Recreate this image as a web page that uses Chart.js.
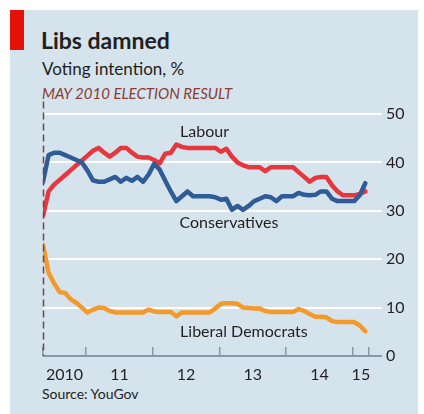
<!DOCTYPE html>
<html>
<head>
<meta charset="utf-8">
<script src="https://cdn.jsdelivr.net/npm/chart.js@4"></script>
<style>
  html, body { margin: 0; padding: 0; background: #fff; }
  body { width: 424px; height: 414px; position: relative; overflow: hidden; font-family: Lato, "Noto Sans", sans-serif; color: #231f20; }
  #panel { position: absolute; left: 10px; top: 10px; width: 408px; height: 404px; background: #d5e3ec; }
  #bar { position: absolute; left: 10px; top: 10px; width: 14px; height: 40px; background: #e3120b; }
  .txt { position: absolute; white-space: nowrap; line-height: 1; }
  #title { left: 41px; top: 29px; font-size: 23px; font-weight: bold; }
  #subtitle { left: 42px; top: 60px; font-size: 17px; }
  #election { left: 42px; top: 86px; font-size: 15px; font-style: italic; color: #8c3b32; }
  #source { left: 42px; top: 387px; font-size: 14px; }
  #chart { position: absolute; left: 0; top: 0; }
</style>
</head>
<body>
<div id="panel"></div>
<div id="bar"></div>
<div class="txt" id="title">Libs damned</div>
<div class="txt" id="subtitle">Voting intention, %</div>
<div class="txt" id="election">MAY 2010 ELECTION RESULT</div>
<div class="txt" id="source">Source: YouGov</div>
<canvas id="chart" width="424" height="414"></canvas>
<script>
// 월별 데이터 (2010년 5월 ~ 2015년 3월)
const months = [
  "2010-05", "2010-06", "2010-07", "2010-08", "2010-09", "2010-10", "2010-11", "2010-12",
  "2011-01", "2011-02", "2011-03", "2011-04", "2011-05", "2011-06", "2011-07", "2011-08", "2011-09", "2011-10", "2011-11", "2011-12",
  "2012-01", "2012-02", "2012-03", "2012-04", "2012-05", "2012-06", "2012-07", "2012-08", "2012-09", "2012-10", "2012-11", "2012-12",
  "2013-01", "2013-02", "2013-03", "2013-04", "2013-05", "2013-06", "2013-07", "2013-08", "2013-09", "2013-10", "2013-11", "2013-12",
  "2014-01", "2014-02", "2014-03", "2014-04", "2014-05", "2014-06", "2014-07", "2014-08", "2014-09", "2014-10", "2014-11", "2014-12",
  "2015-01", "2015-02", "2015-03"
];
const labour = [
  29, 34, 35.4, 36.4, 37.4, 38.4, 39.4, 40.4,
  41.4, 42.4, 43, 42, 41.2, 42, 43, 43, 42, 41.2, 41, 41,
  40.5, 39.8, 41.8, 42, 43.7, 43.2, 43, 43, 43, 43, 43, 43,
  42.2, 42.8, 41.2, 40, 39.4, 39, 39, 39, 38.2, 39, 39, 39,
  39, 39, 38, 37, 36, 36.8, 37, 37, 35.3, 34, 33.2, 33.2,
  33.2, 33.5, 34
];
const conservatives = [
  36, 41.5, 42, 42, 41.5, 41, 40.5, 40,
  38.3, 36.3, 36, 36, 36.5, 37, 36, 36.8, 36.2, 37, 36, 37.5,
  39.7, 38.5, 36.2, 34, 32, 33, 34, 33, 33, 33, 33, 32.8,
  32.3, 32.5, 30.2, 31, 30.2, 31, 32, 32.5, 33, 32.8, 32, 33,
  33, 33, 33.7, 33.3, 33.2, 33.3, 34, 34, 32.5, 32, 32, 32,
  32, 33.2, 35.7
];
const libDems = [
  23, 17.2, 15, 13.2, 13, 11.7, 11, 10,
  9, 9.6, 10, 9.9, 9.3, 9, 9, 9, 9, 9, 9, 9.6,
  9.2, 9.1, 9.1, 9.1, 8.2, 9, 9, 9, 9, 9, 9, 9.8,
  10.8, 10.9, 10.9, 10.8, 10, 9.9, 9.8, 9.8, 9.3, 9.1, 9.1, 9.1,
  9.1, 9.1, 9.7, 9.3, 8.7, 8.1, 8.1, 8, 7.2, 7, 7, 7,
  7, 6.3, 5.1
];
const yTicks = [0, 10, 20, 30, 40, 50];
const yearLabels = ["2010", "11", "12", "13", "14", "15"];
const electionDate = 2010.354;
const dataEnd = 2015.243;
const seriesNames = ["Labour", "Conservatives", "Liberal Democrats"];

// "2010-05" -> 소수 연도 (월 초 + 1주)
function toYear(m) {
  const [y, mo] = m.split("-").map(Number);
  return y + (mo - 1) / 12 + 1 / 48;
}
function points(values) {
  return months.map((m, i) => ({ x: toYear(m), y: values[i] }));
}

// 연도 경계 눈금과 가운데 라벨 위치
const boundaryTicks = [electionDate, 2011, 2012, 2013, 2014, 2015, dataEnd];
const labelTicks = boundaryTicks.slice(0, -1).map((v, i) => (v + boundaryTicks[i + 1]) / 2);

const X_MIN = electionDate;
const X_MAX = 2015.438;

// 시리즈 이름 라벨 + 선거 점선
const annotations = {
  id: "annotations",
  afterDatasetsDraw(chart) {
    const { ctx, scales } = chart;
    const x = scales.x, y = scales.y;
    ctx.save();
    // 선거 결과 점선
    ctx.strokeStyle = "#6e4650";
    ctx.lineWidth = 1.5;
    ctx.setLineDash([7, 4]);
    ctx.beginPath();
    const ex = Math.round(x.getPixelForValue(electionDate)) + 0.5;
    ctx.moveTo(ex, y.getPixelForValue(52.6));
    ctx.lineTo(ex, y.getPixelForValue(0));
    ctx.stroke();
    ctx.setLineDash([]);
    // 라벨
    ctx.font = "16px Lato, 'Noto Sans', sans-serif";
    ctx.fillStyle = "#231f20";
    ctx.textBaseline = "alphabetic";
    const labelPos = [[2012.41, 45.2], [2012.4, 26.4], [2012.41, 3.9]];
    seriesNames.forEach((name, i) => {
      ctx.fillText(name, x.getPixelForValue(labelPos[i][0]), y.getPixelForValue(labelPos[i][1]));
    });
    ctx.restore();
  }
};

const ctx = document.getElementById("chart").getContext("2d");
const chart = new Chart(ctx, {
  type: "line",
  data: {
    datasets: [
      { label: seriesNames[0], data: points(labour), borderColor: "#e8363f", order: 1 },
      { label: seriesNames[1], data: points(conservatives), borderColor: "#2f5c97", order: 0 },
      { label: seriesNames[2], data: points(libDems), borderColor: "#f39a2c", order: 2 },
    ],
  },
  options: {
    responsive: false,
    animation: false,
    devicePixelRatio: 1,
    layout: { padding: { left: 43, top: 114, right: 0, bottom: 0 } },
    elements: {
      line: { borderWidth: 4.5, tension: 0, borderJoinStyle: "round", borderCapStyle: "round" },
      point: { radius: 0 },
    },
    plugins: { legend: { display: false }, tooltip: { enabled: false } },
    scales: {
      x: {
        type: "linear",
        position: "bottom",
        min: X_MIN,
        max: X_MAX,
        afterBuildTicks: (s) => { s.ticks = boundaryTicks.map(v => ({ value: v })); },
        afterFit: (s) => { s.height = 0; },
        ticks: { display: false },
        grid: { drawOnChartArea: false, drawTicks: true, tickLength: -9, color: "#8898a4", lineWidth: 1.5 },
        border: { display: false },
      },
      x2: {
        type: "linear",
        position: "bottom",
        min: X_MIN,
        max: X_MAX,
        afterBuildTicks: (s) => { s.ticks = labelTicks.map(v => ({ value: v })); },
        afterFit: (s) => { s.height = 58; },
        ticks: {
          autoSkip: false,
          maxRotation: 0,
          padding: 9,
          color: "#231f20",
          font: { family: "Lato, 'Noto Sans', sans-serif", size: 16 },
          callback: (v, i) => yearLabels[i],
        },
        grid: { display: false, drawTicks: false },
        border: { display: false },
      },
      y: {
        position: "right",
        min: 0,
        max: 50,
        afterBuildTicks: (s) => { s.ticks = yTicks.map(v => ({ value: v })); },
        afterFit: (s) => { s.width = 42; },
        ticks: {
          padding: 4,
          color: "#231f20",
          font: { family: "Lato, 'Noto Sans', sans-serif", size: 16 },
        },
        grid: {
          drawTicks: false,
          lineWidth: 2,
          color: (c) => (c.tick && c.tick.value === 0 ? "#8898a4" : "#ffffff"),
        },
        border: { display: false },
      },
    },
  },
  plugins: [annotations],
});
</script>
</body>
</html>
